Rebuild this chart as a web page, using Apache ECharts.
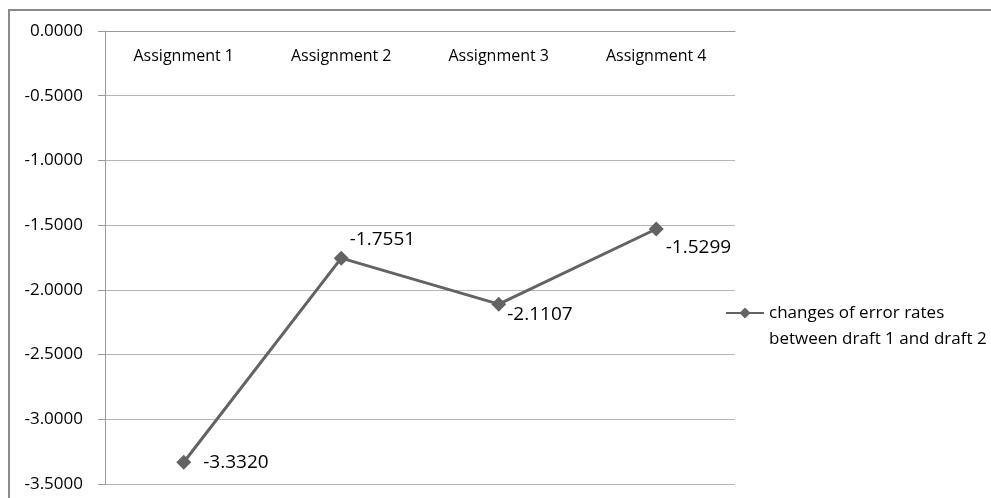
<!DOCTYPE html>
<html>
<head>
<meta charset="utf-8">
<script src="https://cdn.jsdelivr.net/npm/echarts@6/dist/echarts.min.js"></script>
<style>
  html, body { margin: 0; padding: 0; background: #fff; }
  #chart { width: 991px; height: 498px; }
</style>
</head>
<body>
<div id="chart"></div>
<script>
const categories = ['Assignment 1', 'Assignment 2', 'Assignment 3', 'Assignment 4'];
const changes = [-3.3320, -1.7551, -2.1107, -1.5299];
const seriesName = 'changes of error rates\nbetween draft 1 and draft 2';
// label offsets per point, like the excel labels
const labelOffsets = [[12, 0], [1, -19], [1, 10], [2, 19]];

const font = '"Open Sans", "DejaVu Sans", sans-serif';
const chart = echarts.init(document.getElementById('chart'));

const option = {
    animation: false,
    graphic: [{
        type: 'rect',
        shape: { x: 9, y: 10, width: 1200, height: 700 },
        style: { fill: 'none', stroke: '#8a8a8a', lineWidth: 2 },
        silent: true
    }],
    grid: { left: 105, top: 31, right: 256, bottom: 14 },
    legend: {
        data: [seriesName],
        left: 725,
        top: 274,
        padding: 0,
        itemWidth: 38,
        itemHeight: 14,
        itemGap: 0,
        // empty first line so the marker sits beside the first text line
        formatter: name => '\n' + name,
        textStyle: {
            fontFamily: font, fontSize: 17, color: '#000', lineHeight: 26
        }
    },
    xAxis: {
        type: 'category',
        position: 'top',
        data: categories,
        boundaryGap: true,
        axisLine: { lineStyle: { color: '#9a9a9a', width: 1 } },
        axisTick: { inside: true, length: 7, lineStyle: { color: '#9a9a9a' } },
        axisLabel: { inside: true, margin: 17, fontFamily: font, fontSize: 16, color: '#000' },
        splitLine: { show: false }
    },
    yAxis: {
        type: 'value',
        min: -3.5,
        max: 0,
        interval: 0.5,
        axisLine: { show: true, lineStyle: { color: '#9a9a9a', width: 1 } },
        axisTick: { show: true, length: 7, lineStyle: { color: '#9a9a9a' } },
        axisLabel: {
            margin: 22, fontFamily: font, fontSize: 17, color: '#000',
            formatter: v => v.toFixed(4)
        },
        splitLine: { lineStyle: { color: '#b5b5b5', width: 1 } }
    },
    series: [{
        name: seriesName,
        type: 'line',
        data: changes.map((v, i) => ({
            value: v,
            label: { offset: labelOffsets[i] }
        })),
        symbol: 'diamond',
        symbolSize: 15,
        lineStyle: { color: '#636363', width: 3 },
        itemStyle: { color: '#636363' },
        label: {
            show: true,
            position: 'right',
            distance: 0,
            fontFamily: font,
            fontSize: 19,
            color: '#000',
            formatter: p => p.value.toFixed(4)
        }
    }]
};

chart.setOption(option);
</script>
</body>
</html>
